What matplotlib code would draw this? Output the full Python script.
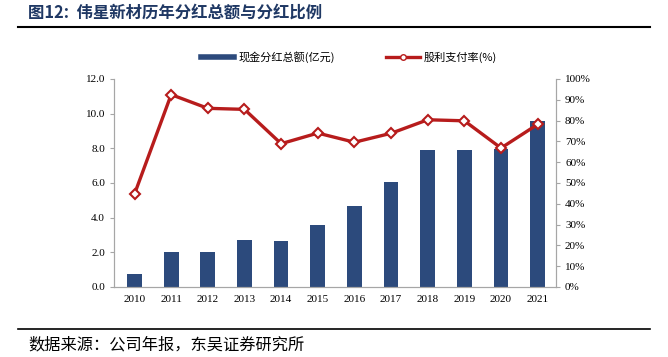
import matplotlib.pyplot as plt
from matplotlib.lines import Line2D

plt.rcParams['font.family'] = ['Liberation Serif', 'Noto Sans CJK SC']

years = ['2010', '2011', '2012', '2013', '2014', '2015', '2016', '2017', '2018', '2019', '2020', '2021']
dividend = [0.77, 2.02, 2.02, 2.69, 2.67, 3.58, 4.65, 6.04, 7.89, 7.89, 7.96, 9.56]  # 亿元
payout = [44.7, 92.5, 85.9, 85.4, 68.9, 74.0, 69.6, 73.9, 80.4, 79.9, 66.8, 78.2]  # %

bar_color = '#2C4A7C'
line_color = '#B71C1C'
cjk = ['Noto Sans CJK SC', 'DejaVu Sans']

fig = plt.figure(figsize=(6.68, 3.57), dpi=100)
ax = fig.add_axes([114/668, 1-287/357, (556-114)/668, (287-79)/357])
ax2 = ax.twinx()

x = list(range(len(years)))
ax.bar(x, dividend, width=0.4, color=bar_color, zorder=2)
ax2.plot(x, payout, color=line_color, lw=2.4, marker='D', ms=5,
         mfc='white', mec=line_color, mew=1.5, zorder=3)

ax.set_xlim(-0.56, 11.5)
ax.set_ylim(0, 12)
ax.set_yticks([0, 2, 4, 6, 8, 10, 12])
ax.set_yticklabels([f'{v:.1f}' for v in range(0, 13, 2)])
ax2.set_ylim(0, 100)
ax2.set_yticks(range(0, 101, 10))
ax2.set_yticklabels([f'{v}%' for v in range(0, 101, 10)])
ax.set_xticks(x)
ax.set_xticklabels(years)

for a in (ax, ax2):
    for s in a.spines.values():
        s.set_color('#A6A6A6')
    a.spines['top'].set_visible(False)
    a.tick_params(labelsize=8, colors='#A6A6A6', labelcolor='black', length=3)
ax.tick_params(axis='x', length=0, pad=6)

handles = [Line2D([], [], color=bar_color, lw=4),
           Line2D([], [], color=line_color, lw=2.4, marker='o', ms=4, mfc='white', mec=line_color)]
fig.legend(handles, ['现金分红总额(亿元)', '股利支付率(%)'], loc='center',
           bbox_to_anchor=(349/668, 1-57/357), ncol=2, frameon=False,
           prop={'family': cjk, 'size': 8}, handlelength=3, handletextpad=0.4,
           columnspacing=4.6)

fig.text(28/668, 1-13/357, '图12:  伟星新材历年分红总额与分红比例', family=cjk,
         fontsize=11.8, fontweight='bold', color='#1F3864', va='center')
fig.add_artist(Line2D([18/668, 650/668], [1-27/357, 1-27/357], color='black', lw=1.5))
fig.add_artist(Line2D([18/668, 650/668], [1-329/357, 1-329/357], color='black', lw=1.2))
fig.text(28/668, 1-345/357, '数据来源：公司年报，东吴证券研究所', family=cjk,
         fontsize=11.7, va='center')

fig.savefig('out.png', dpi=100)
